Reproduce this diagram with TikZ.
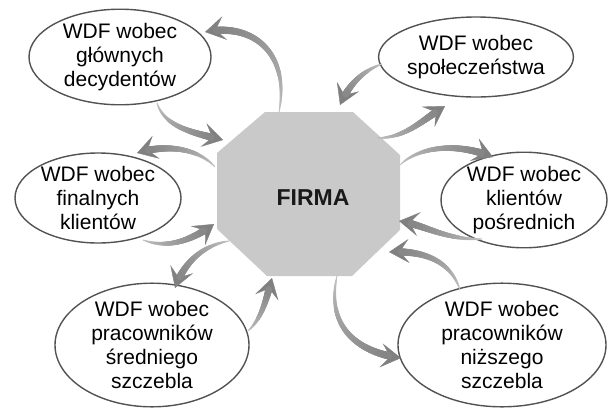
\documentclass[tikz,border=0pt]{standalone}
\usepackage{fontspec}
\setmainfont{Liberation Sans}
\usetikzlibrary{shapes.geometric,decorations.markings,arrows.meta}
\tikzset{
  bubble/.style={ellipse, draw=black!68, line width=1.4pt, inner sep=0pt, align=center,
    font=\fontsize{21}{24}\selectfont},
  tarrow/.style={draw=black!40, line width=0.4pt,
    -{Stealth[length=20pt,width=24pt,inset=9pt,color=black!50,fill=black!50]},
    decoration={markings,
      mark=between positions 0 and -12pt step 0.6pt with {
        \pgfmathsetmacro\frc{\pgfkeysvalueof{/pgf/decoration/mark info/distance from start}/\pgfdecoratedpathlength}
        \pgfmathsetmacro\pct{22+28*\frc^0.7}
        \pgfmathsetmacro\rad{0.3+3.7*\frc^0.6}
        \fill[black!\pct] (0pt,0pt) circle (\rad pt);
      }},
    postaction={decorate}}
}
\begin{document}
\begin{tikzpicture}[x=1pt,y=-1pt]
\useasboundingbox (0,0) rectangle (610,407);
% octagon
\fill[black!21] (265,112) -- (353,112) -- (400,155) -- (400,230) -- (352,276) -- (267,276) -- (217,229) -- (217,153) -- cycle;
\node[font=\fontsize{23}{26}\selectfont\bfseries, text=black!90] (firma) at (313,198) {FIRMA};
% ellipses
\node[bubble, minimum width=182pt, minimum height=84pt] (e1) at (120,57) {WDF wobec\\głównych\\decydentów};
\node[bubble, minimum width=192pt, minimum height=80pt] (e2) at (476,57) {WDF wobec\\społeczeństwa};
\node[bubble, minimum width=166pt, minimum height=90pt] (e3) at (98,198) {WDF wobec\\finalnych\\klientów};
\node[bubble, minimum width=166pt, minimum height=94pt] (e4) at (524,200) {WDF wobec\\klientów\\pośrednich};
\node[bubble, minimum width=194pt, minimum height=116pt] (e5) at (152,345) {WDF wobec\\pracowników\\średniego\\szczebla};
\node[bubble, minimum width=208pt, minimum height=118pt] (e6) at (502,345) {WDF wobec\\pracowników\\niższego\\szczebla};
% arrow end points
\coordinate (aS) at (279,112); \coordinate (aE) at (205,32);
\coordinate (bS) at (157,103); \coordinate (bE) at (223,140);
\coordinate (cS) at (215,167); \coordinate (cE) at (137,153);
\coordinate (dS) at (143,240); \coordinate (dE) at (214,224);
\coordinate (eS) at (229,241); \coordinate (eE) at (175,288);
\coordinate (fS) at (248,331); \coordinate (fE) at (272,278);
\coordinate (gS) at (337,276); \coordinate (gE) at (401,358);
\coordinate (hS) at (460,290); \coordinate (hE) at (389,252);
\coordinate (iS) at (482,239); \coordinate (iE) at (399,221);
\coordinate (jS) at (400,165); \coordinate (jE) at (493,157);
\coordinate (kS) at (377,138); \coordinate (kE) at (445,106);
\coordinate (lS) at (382,64);  \coordinate (lE) at (340,105);
% arrows
\draw[tarrow] (aS) .. controls (290,55) and (255,22) .. (aE);
\draw[tarrow] (bS) .. controls (165,128) and (195,133) .. (bE);
\draw[tarrow] (cS) .. controls (200,150) and (170,143) .. (cE);
\draw[tarrow] (dS) .. controls (170,250) and (195,238) .. (dE);
\draw[tarrow] (eS) .. controls (205,245) and (185,260) .. (eE);
\draw[tarrow] (fS) .. controls (262,318) and (266,300) .. (fE);
\draw[tarrow] (gS) .. controls (326,325) and (355,352) .. (gE);
\draw[tarrow] (hS) .. controls (452,265) and (430,250) .. (hE);
\draw[tarrow] (iS) .. controls (445,240) and (425,225) .. (iE);
\draw[tarrow] (jS) .. controls (415,150) and (450,140) .. (jE);
\draw[tarrow] (kS) .. controls (405,138) and (420,122) .. (kE);
\draw[tarrow] (lS) .. controls (365,70) and (350,82) .. (lE);
\end{tikzpicture}
\end{document}
